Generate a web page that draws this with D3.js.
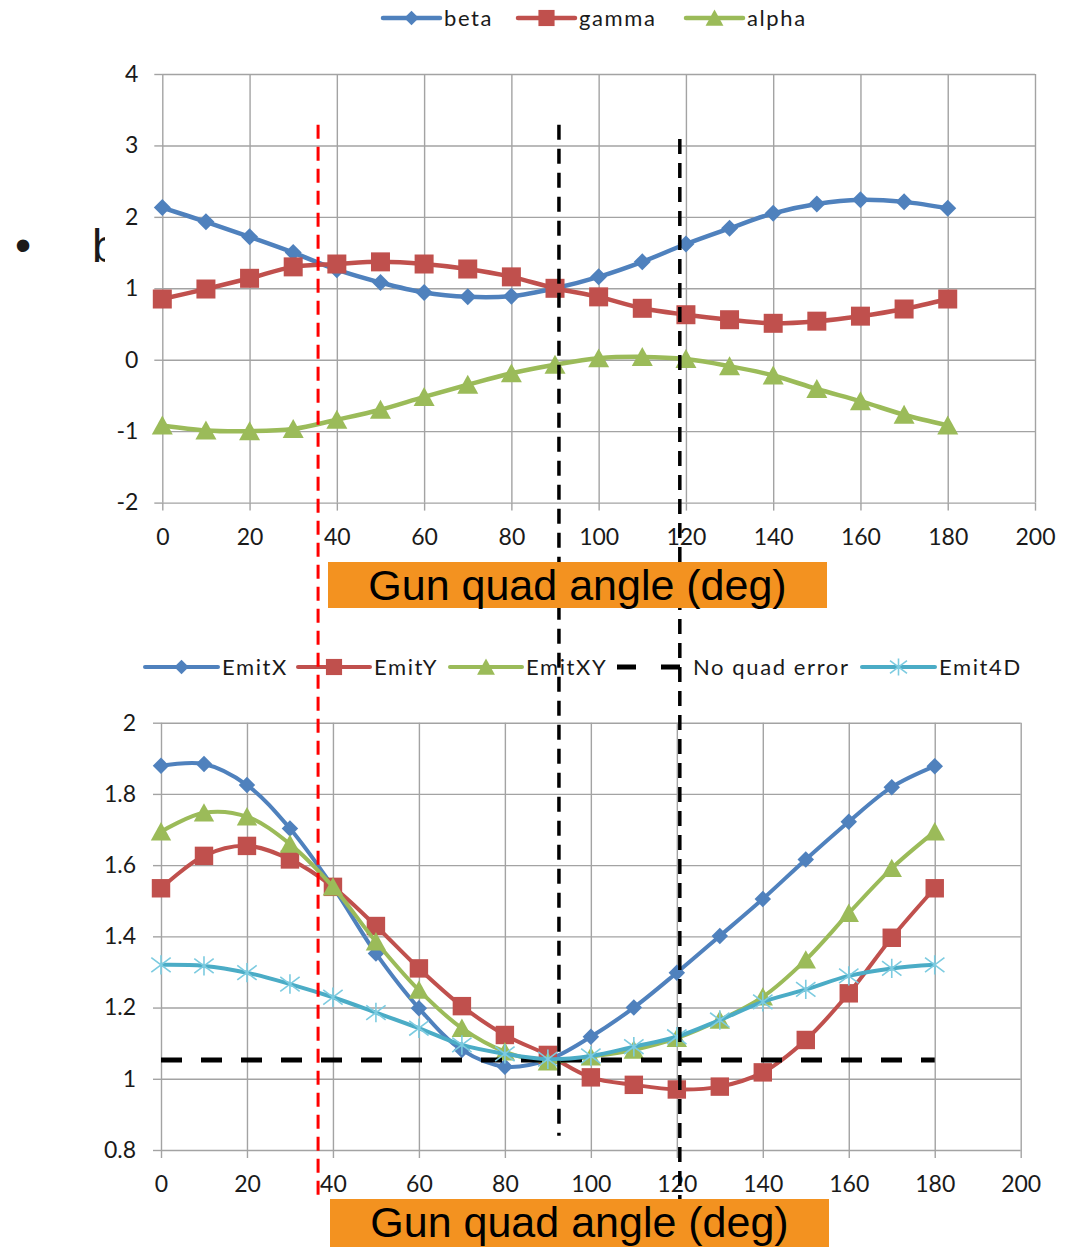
<!DOCTYPE html>
<html>
<head>
<meta charset="utf-8">
<script src="https://cdn.jsdelivr.net/npm/d3@7"></script>
<style>
  body { margin: 0; background: #fff; }
  svg { display: block; }
  text { font-family: Lato, "Open Sans", sans-serif; fill: #1a1a1a; }
</style>
</head>
<body>
<svg id="fig" width="1083" height="1247"></svg>
<script>
// ---- data -------------------------------------------------------------
const angles = [0, 10, 20, 30, 40, 50, 60, 70, 80, 90, 100, 110, 120, 130, 140, 150, 160, 170, 180];

// Twiss parameters vs gun quad angle
const beta  = [2.13, 1.93, 1.72, 1.50, 1.26, 1.08, 0.94, 0.88, 0.89, 1.00, 1.16, 1.37, 1.62, 1.84, 2.05, 2.18, 2.24, 2.21, 2.12];
const gamma = [0.85, 0.99, 1.14, 1.30, 1.34, 1.37, 1.34, 1.27, 1.16, 1.00, 0.88, 0.72, 0.63, 0.56, 0.51, 0.54, 0.61, 0.71, 0.85];
const alpha = [-0.92, -0.99, -1.00, -0.97, -0.84, -0.70, -0.52, -0.35, -0.19, -0.07, 0.02, 0.04, 0.01, -0.09, -0.22, -0.41, -0.58, -0.77, -0.92];

// Emittances vs gun quad angle
const emitX  = [1.879, 1.884, 1.825, 1.703, 1.539, 1.352, 1.198, 1.081, 1.034, 1.053, 1.118, 1.200, 1.298, 1.401, 1.505, 1.616, 1.722, 1.819, 1.878];
const emitY  = [1.535, 1.626, 1.654, 1.616, 1.539, 1.429, 1.310, 1.204, 1.123, 1.067, 1.004, 0.983, 0.970, 0.978, 1.018, 1.109, 1.240, 1.396, 1.535];
const emitXY = [1.694, 1.747, 1.736, 1.659, 1.539, 1.385, 1.249, 1.142, 1.076, 1.048, 1.062, 1.081, 1.114, 1.165, 1.230, 1.334, 1.465, 1.591, 1.694];
const emit4D = [1.320, 1.317, 1.298, 1.266, 1.229, 1.186, 1.142, 1.095, 1.070, 1.055, 1.064, 1.090, 1.118, 1.165, 1.216, 1.251, 1.289, 1.310, 1.320];
const noQuadAngles = [0, 180];
const noQuadError  = [1.053, 1.053];

const xTicks      = [0, 20, 40, 60, 80, 100, 120, 140, 160, 180, 200];
const topYTicks   = [-2, -1, 0, 1, 2, 3, 4];
const botYTicks   = [0.8, 1, 1.2, 1.4, 1.6, 1.8, 2];
const axisTitle   = "Gun quad angle (deg)";

// marker angles of the vertical guide lines (deg) with their vertical reach
const guideAngles = [35.7, 90.9, 118.6];
const guideTop    = [3.29, 3.29, 3.09];   // value on the upper chart's y axis
const guideBottom = [0.67, 0.84, 0.53];   // value on the lower chart's y axis

// ---- styles -----------------------------------------------------------
const BLUE = "#4F81BD", RED = "#C0504D", GREEN = "#9BBB59", CYAN = "#4BACC6", STAR = "#7ccbe0";
const GRID = "#a3a3a3";
const ORANGE = "#F39220";
const fmt = d => d3.format("~g")(d).replace("\u2212", "-");

const svg = d3.select("#fig");

// slide bullet sitting behind the chart object
svg.append("text").attr("x", 15).attr("y", 261)
  .style("font", '46px "Liberation Sans"').text("•");
svg.append("text").attr("x", 92).attr("y", 262)
  .style("font", '46px "Liberation Sans"').text("b");
svg.append("rect").attr("x", 105).attr("y", 0).attr("width", 1083 - 105).attr("height", 1247).attr("fill", "#fff");

// ---- marker shapes ----------------------------------------------------
function marker(g, type, color, k) {
  if (type === "diamond") {
    const s = 8.5 * k;
    g.append("path").attr("d", `M0,${-s}L${s},0L0,${s}L${-s},0Z`).attr("fill", color);
  } else if (type === "square") {
    const s = 9.5 * k;
    g.append("rect").attr("x", -s).attr("y", -s).attr("width", 2 * s).attr("height", 2 * s).attr("fill", color);
  } else if (type === "triangle") {
    const w = 10.5 * k, h = 9 * k;
    g.append("path").attr("d", `M0,${-h * 1.1}L${w},${h}L${-w},${h}Z`).attr("fill", color);
  } else if (type === "star") {
    const s = 10 * k;
    g.append("path")
      .attr("d", `M${-s},${-s * 0.75}L${s},${s * 0.75}M${-s},${s * 0.75}L${s},${-s * 0.75}M0,${-s}L0,${s}`)
      .attr("stroke", STAR).attr("stroke-width", 1.6).attr("fill", "none");
  }
}

// ---- one chart panel --------------------------------------------------
function panel(cfg) {
  const x = d3.scaleLinear().domain([0, 200]).range(cfg.xRange);
  const y = d3.scaleLinear().domain(cfg.yDomain).range(cfg.yRange);
  const g = svg.append("g");

  // vertical gridlines
  g.append("g").attr("transform", `translate(0,${cfg.yRange[1]})`)
    .call(d3.axisTop(x).tickValues(xTicks).tickSize(-(cfg.yRange[0] - cfg.yRange[1])).tickFormat(""))
    .call(a => a.select(".domain").remove())
    .call(a => a.selectAll("line").attr("stroke", GRID).attr("stroke-width", 1.4));
  // horizontal gridlines
  g.append("g").attr("transform", `translate(${cfg.xRange[1]},0)`)
    .call(d3.axisRight(y).tickValues(cfg.yTicks).tickSize(-(cfg.xRange[1] - cfg.xRange[0])).tickFormat(""))
    .call(a => a.select(".domain").remove())
    .call(a => a.selectAll("line").attr("stroke", GRID).attr("stroke-width", 1.4));

  // axes with outward ticks
  g.append("g").attr("transform", `translate(${cfg.xRange[0]},0)`)
    .call(d3.axisLeft(y).tickValues(cfg.yTicks).tickSize(8).tickPadding(cfg.yPad).tickFormat(fmt))
    .call(a => a.select(".domain").remove())
    .call(a => a.selectAll("line").attr("stroke", GRID).attr("stroke-width", 1.4))
    .call(a => a.selectAll("text").style("font-size", "23px").style("font-family", "Lato").attr("fill", "#1a1a1a"));
  g.append("g").attr("transform", `translate(0,${cfg.yRange[0]})`)
    .call(d3.axisBottom(x).tickValues(xTicks).tickSize(8).tickPadding(cfg.xPad).tickFormat(fmt))
    .call(a => a.select(".domain").remove())
    .call(a => a.selectAll("line").attr("stroke", GRID).attr("stroke-width", 1.4))
    .call(a => a.selectAll("text").style("font-size", "23px").style("font-family", "Lato").attr("fill", "#1a1a1a"));

  const line = d3.line().x(d => x(d[0])).y(d => y(d[1])).curve(d3.curveCatmullRom.alpha(0.5));
  const straight = d3.line().x(d => x(d[0])).y(d => y(d[1]));

  cfg.series.forEach(s => {
    const pts = s.xs.map((a, i) => [a, s.values[i]]);
    g.append("path").datum(pts)
      .attr("d", s.dashed ? straight : line)
      .attr("fill", "none").attr("stroke", s.color)
      .attr("stroke-width", s.dashed ? 5 : cfg.lw)
      .attr("stroke-dasharray", s.dashed ? "21,19" : null)
      .attr("stroke-linecap", "butt");
    if (s.marker) {
      pts.forEach(p => {
        const m = g.append("g").attr("transform", `translate(${x(p[0])},${y(p[1])})`);
        marker(m, s.marker, s.color, cfg.mk);
      });
    }
  });

  // legend
  const lg = svg.append("g");
  cfg.legend.forEach(it => {
    const s = cfg.series.find(d => d.name === it.name);
    const row = lg.append("g").attr("transform", `translate(${it.x},${cfg.legendY})`);
    if (s.dashed) {
      row.append("line").attr("x1", 0).attr("x2", it.len).attr("stroke", s.color)
        .attr("stroke-width", 5).attr("stroke-dasharray", "19,25");
    } else {
      row.append("line").attr("x1", 0).attr("x2", it.len).attr("stroke", s.color)
        .attr("stroke-width", cfg.lw).attr("stroke-linecap", "round");
      const m = row.append("g").attr("transform", `translate(${it.len / 2},0)`);
      marker(m, s.marker, s.color, 0.85);
    }
    row.append("text").attr("x", it.len + 4).attr("dy", "0.35em")
      .style("font-size", "22px").style("letter-spacing", "1.6px").text(it.name);
  });

  return { x, y };
}

const upper = panel({
  xRange: [162.3, 1035], yDomain: [-2, 4], yRange: [502.6, 74], yTicks: topYTicks,
  xPad: 18, yPad: 16, lw: 4.5, mk: 1.0, legendY: 18,
  series: [
    { name: "beta",  xs: angles, values: beta,  color: BLUE,  marker: "diamond" },
    { name: "gamma", xs: angles, values: gamma, color: RED,   marker: "square" },
    { name: "alpha", xs: angles, values: alpha, color: GREEN, marker: "triangle" }
  ],
  legend: [
    { name: "beta",  x: 383, len: 57 },
    { name: "gamma", x: 518, len: 57 },
    { name: "alpha", x: 686, len: 57 }
  ]
});

const lower = panel({
  xRange: [161, 1020.7], yDomain: [0.8, 2], yRange: [1150, 722.7], yTicks: botYTicks,
  xPad: 18, yPad: 17, lw: 4, mk: 0.97, legendY: 667,
  series: [
    { name: "EmitX",  xs: angles, values: emitX,  color: BLUE,  marker: "diamond" },
    { name: "EmitY",  xs: angles, values: emitY,  color: RED,   marker: "square" },
    { name: "EmitXY", xs: angles, values: emitXY, color: GREEN, marker: "triangle" },
    { name: "No quad error", xs: noQuadAngles, values: noQuadError, color: "#000", dashed: true },
    { name: "Emit4D", xs: angles, values: emit4D, color: CYAN,  marker: "star" }
  ],
  legend: [
    { name: "EmitX",  x: 145, len: 73 },
    { name: "EmitY",  x: 298, len: 72 },
    { name: "EmitXY", x: 450, len: 72 },
    { name: "No quad error", x: 617, len: 72 },
    { name: "Emit4D", x: 862, len: 73 }
  ]
});

// vertical guide lines spanning both panels
const guides = svg.append("g");
guideAngles.forEach((a, i) => {
  guides.append("line")
    .attr("x1", upper.x(a)).attr("x2", upper.x(a))
    .attr("y1", upper.y(guideTop[i])).attr("y2", Math.min(lower.y(guideBottom[i]), 1247))
    .attr("stroke", i === 0 ? "#ff0000" : "#000")
    .attr("stroke-width", i === 0 ? 3 : 3.5)
    .attr("stroke-dasharray", i === 0 ? "14,8" : "15,9");
});

// axis title boxes
[{ x: 328, y: 562, h: 46 }, { x: 330, y: 1199, h: 50 }].forEach(b => {
  svg.append("rect").attr("x", b.x).attr("y", b.y).attr("width", 499).attr("height", b.h).attr("fill", ORANGE);
  svg.append("text").attr("x", b.x + 249.5).attr("y", b.y + 38)
    .attr("text-anchor", "middle").style("font", '43px "Liberation Sans"').style("fill", "#000")
    .text(axisTitle);
});
</script>
</body>
</html>
